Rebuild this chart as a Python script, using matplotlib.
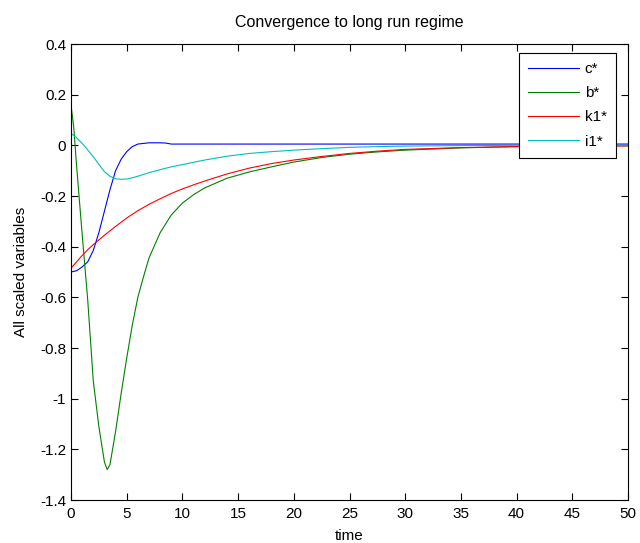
import numpy as np
import matplotlib
matplotlib.use('Agg')
import matplotlib.pyplot as plt

plt.rcParams['font.family'] = ['Liberation Sans', 'DejaVu Sans']

# ---------- data ----------
t_c = [0, 0.5, 1, 1.5, 2, 2.5, 3, 3.5, 4, 4.5, 5, 5.5, 6, 7, 8, 8.5, 9, 10, 20, 30, 40, 50]
c_star = [-0.50, -0.495, -0.48, -0.46, -0.415, -0.345, -0.26, -0.175, -0.10, -0.055, -0.025,
          -0.005, 0.005, 0.010, 0.010, 0.009, 0.005, 0.005, 0.005, 0.005, 0.005, 0.005]

t_b = [0, 0.25, 0.5, 1, 1.5, 2, 2.5, 3, 3.25, 3.5, 4, 4.5, 5, 5.5, 6, 6.5, 7, 8, 9, 10,
       11, 12, 14, 16, 18, 20, 22.5, 25, 27.5, 30, 35, 40, 45, 50]
b_star = [0.16, 0.07, -0.08, -0.35, -0.61, -0.93, -1.11, -1.25, -1.28, -1.26, -1.13, -0.98,
          -0.84, -0.71, -0.60, -0.52, -0.445, -0.345, -0.275, -0.228, -0.195, -0.168, -0.13,
          -0.105, -0.085, -0.066, -0.048, -0.035, -0.026, -0.019, -0.010, -0.005, -0.003, -0.002]

t_k = [0, 0.5, 1, 1.5, 2, 3, 4, 5, 6, 7, 8, 9, 10, 11, 12, 14, 16, 18, 20, 22.5, 25, 27.5,
       30, 35, 40, 45, 50]
k1_star = [-0.485, -0.46, -0.435, -0.412, -0.392, -0.355, -0.32, -0.287, -0.258, -0.233,
           -0.211, -0.19, -0.172, -0.156, -0.141, -0.113, -0.09, -0.072, -0.058, -0.044,
           -0.032, -0.023, -0.016, -0.009, -0.005, -0.003, -0.002]

t_i = [0, 0.5, 1, 1.5, 2, 2.5, 3, 3.5, 4, 4.5, 5, 5.5, 6, 7, 8, 9, 10, 11, 12, 14, 16, 18,
       20, 22.5, 25, 27.5, 30, 35, 40, 45, 50]
i1_star = [0.047, 0.03, 0.008, -0.018, -0.045, -0.075, -0.104, -0.122, -0.132, -0.134, -0.133,
           -0.128, -0.122, -0.108, -0.096, -0.085, -0.076, -0.067, -0.058, -0.043, -0.032,
           -0.025, -0.019, -0.013, -0.008, -0.005, -0.003, -0.001, 0.0, 0.0, 0.0]

x_ticks = [0, 5, 10, 15, 20, 25, 30, 35, 40, 45, 50]
y_ticks = [-1.4, -1.2, -1.0, -0.8, -0.6, -0.4, -0.2, 0.0, 0.2, 0.4]
y_tick_labels = ['-1.4', '-1.2', '-1', '-0.8', '-0.6', '-0.4', '-0.2', '0', '0.2', '0.4']

SERIES = [
    (t_c, c_star, 'c*', (0, 0, 1)),
    (t_b, b_star, 'b*', (0, 0.5, 0)),
    (t_k, k1_star, 'k1*', (1, 0, 0)),
    (t_i, i1_star, 'i1*', (0, 0.75, 0.75)),
]

# ---------- plot ----------
fig = plt.figure(figsize=(6.4, 5.43), dpi=100)
ax = fig.add_axes([71 / 640, 1 - 500 / 543, 557 / 640, 456 / 543])

for t, y, name, col in SERIES:
    ax.plot(t, y, color=col, lw=0.8, label=name)

ax.set_xlim(0, 50)
ax.set_ylim(-1.4, 0.4)
ax.set_xticks(x_ticks)
ax.set_xticklabels([str(v) for v in x_ticks])
ax.set_yticks(y_ticks)
ax.set_yticklabels(y_tick_labels)
ax.tick_params(direction='in', top=True, right=True, labelsize=11, length=5, width=0.8)
ax.tick_params(axis='x', pad=5)
for s in ax.spines.values():
    s.set_linewidth(0.8)

ax.set_title('Convergence to long run regime', fontsize=11.5, pad=12)
ax.set_xlabel('time', fontsize=11, labelpad=6)
ax.set_ylabel('All scaled variables', fontsize=11, labelpad=9)

leg = ax.legend(loc='upper right', bbox_to_anchor=(0.9785, 0.980), borderaxespad=0,
                fontsize=11, fancybox=False, edgecolor='black', framealpha=1,
                handlelength=3.3, labelspacing=0.66, borderpad=0.6, handletextpad=0.4)
leg.get_frame().set_linewidth(0.8)

fig.savefig('out.png', dpi=100, facecolor='white')
